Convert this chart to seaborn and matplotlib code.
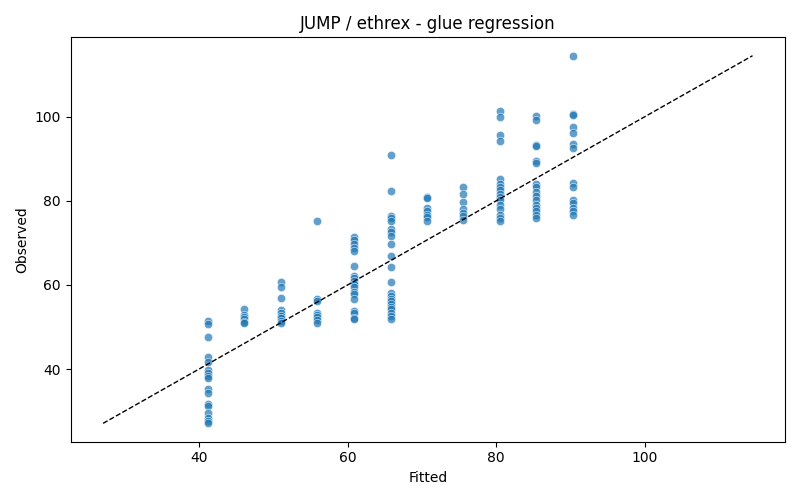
import numpy as np
import pandas as pd
import matplotlib
matplotlib.use("Agg")
import matplotlib.pyplot as plt
import seaborn as sns

fitted_levels = [41.2, 46.1, 51.0, 55.9, 60.8, 65.8, 70.7, 75.6, 80.5, 85.4, 90.3]

obs_41 = [51.4, 50.6, 47.7, 42.8, 41.8, 39.8, 39.1, 38.3, 37.8, 35.2, 34.4,
          31.8, 31.2, 29.6, 28.3, 27.7, 27.1]
obs_46 = [54.4, 52.9, 52.3, 51.8, 51.3, 50.9]
obs_51 = [60.8, 59.5, 57.0, 54.0, 53.4, 52.6, 52.1, 51.5, 50.9]
obs_56 = [75.2, 56.7, 56.2, 53.4, 52.9, 52.3, 51.7, 51.0]
obs_61 = [71.5, 70.7, 69.7, 68.9, 68.1, 64.5, 62.1, 61.6, 60.9, 60.2, 59.5,
          58.4, 57.8, 56.7, 53.8, 53.3, 52.2, 52.0]
obs_66 = [91.0, 82.4, 76.5, 75.8, 75.1, 73.3, 72.5, 71.6, 69.7, 66.8, 64.2,
          60.6, 58.0, 57.3, 56.7, 56.2, 55.5, 54.7, 54.3, 53.3, 52.6, 51.8]
obs_71 = [81.0, 80.6, 78.2, 77.5, 76.7, 76.1, 75.3]
obs_76 = [83.4, 81.6, 79.8, 78.0, 77.2, 76.4, 75.5]
obs_81 = [101.3, 99.9, 95.6, 94.3, 85.2, 84.0, 83.2, 82.5, 81.7, 80.9, 80.1,
          78.9, 78.1, 76.7, 75.9, 75.3]
obs_86 = [100.2, 99.3, 93.3, 93.0, 89.4, 89.1, 84.0, 83.2, 82.2, 81.2, 80.1,
          79.0, 78.2, 77.5, 76.7, 75.9]
obs_91 = [114.5, 100.7, 100.4, 97.5, 96.1, 93.6, 92.5, 84.2, 83.4, 80.2,
          79.4, 78.2, 77.5, 76.7]

groups = [obs_41, obs_46, obs_51, obs_56, obs_61, obs_66,
          obs_71, obs_76, obs_81, obs_86, obs_91]

df = pd.DataFrame({
    "Fitted":   [f for f, g in zip(fitted_levels, groups) for _ in g],
    "Observed": [v for g in groups for v in g],
})

fig, ax = plt.subplots(figsize=(8, 5), dpi=100)
sns.scatterplot(data=df, x="Fitted", y="Observed", alpha=0.7, ax=ax)

lo = min(df["Fitted"].min(), df["Observed"].min())
hi = max(df["Fitted"].max(), df["Observed"].max())
ax.plot([lo, hi], [lo, hi], color="black", linestyle="--", linewidth=1)

ax.set_title("JUMP / ethrex - glue regression")
ax.set_xlabel("Fitted")
ax.set_ylabel("Observed")
plt.tight_layout()
fig.savefig("out.png", dpi=100)
